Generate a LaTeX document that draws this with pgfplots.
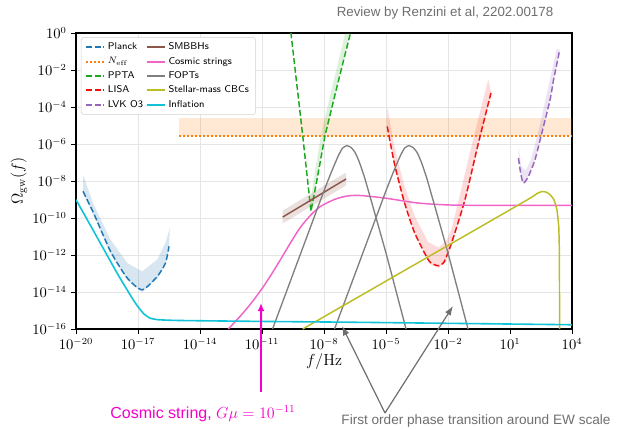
\documentclass[border=0pt]{standalone}
\usepackage{pgfplots}
\pgfplotsset{compat=1.18}
\usepackage{fontspec}
\newfontfamily\helv{Liberation Sans}
\usetikzlibrary{arrows.meta}

\definecolor{cblue}{HTML}{1F77B4}
\definecolor{corange}{HTML}{FF7F0E}
\definecolor{cgreen}{HTML}{1CA81C}
\definecolor{cred}{HTML}{F01010}
\definecolor{cpurple}{HTML}{9467BD}
\definecolor{cbrown}{HTML}{8C564B}
\definecolor{cpink}{HTML}{F064C8}
\definecolor{cgray}{HTML}{7F7F7F}
\definecolor{colive}{HTML}{BCBD22}
\definecolor{ccyan}{HTML}{12C2D6}
\definecolor{cmag}{HTML}{F500C8}
\definecolor{annot}{HTML}{6E6E6E}

% short line samples in the legend
\pgfplotsset{legend image code/.code={\draw[#1, line width=1.35pt] (0cm,0cm) -- (0.48cm,0cm);}}

\begin{document}
\begin{tikzpicture}[x=0.75pt,y=0.75pt]
\path[use as bounding box] (-76,-100) rectangle (553,329);
% axes hold log10(f/Hz) and log10(Omega_gw)
\begin{axis}[
  at={(0,0)}, anchor=south west, scale only axis,
  width=372pt, height=222pt,
  xmin=-20, xmax=4, ymin=-16, ymax=0,
  xtick={-20,-17,...,4},
  xticklabels={$10^{-20}$,$10^{-17}$,$10^{-14}$,$10^{-11}$,$10^{-8}$,$10^{-5}$,$10^{-2}$,$10^{1}$,$10^{4}$},
  ytick={-16,-14,...,0},
  yticklabels={$10^{-16}$,$10^{-14}$,$10^{-12}$,$10^{-10}$,$10^{-8}$,$10^{-6}$,$10^{-4}$,$10^{-2}$,$10^{0}$},
  tick align=outside, tick pos=left, major tick length=3.5pt,
  axis line style={line width=0.8pt}, tick style={black, line width=0.6pt},
  grid=major, major grid style={gray!20, line width=0.6pt},
  xlabel={$f/\mathrm{Hz}$}, ylabel={$\Omega_{\mathrm{gw}}(f)$},
  xlabel style={at={(axis description cs:0.5,-0.111)}, anchor=center},
  ylabel style={at={(axis description cs:-0.115,0.5)}, anchor=center},
  label style={font=\fontsize{12}{14}\selectfont},
  tick label style={font=\fontsize{10.5}{12}\selectfont},
  legend columns=5, transpose legend,
  legend style={at={(0.01,0.986)}, anchor=north west,
    draw=gray!35, rounded corners=2pt, fill=white,
    font=\sffamily\fontsize{7.4}{8.7}\selectfont, inner xsep=3pt, inner ysep=2pt},
  legend cell align=left,
]
% --- uncertainty bands ---
\addplot[forget plot, draw=none, fill=cblue, fill opacity=0.18] coordinates {
 (-19.66,-7.66) (-19.15,-9.28) (-18.33,-11.17) (-17.52,-12.43) (-16.80,-12.89)
 (-16.07,-12.25) (-15.67,-11.35) (-15.46,-10.54)
 (-15.50,-11.65) (-15.67,-12.55) (-16.07,-13.28) (-16.80,-14.00) (-17.52,-13.36)
 (-18.33,-11.92) (-19.15,-9.85) (-19.66,-8.68)} -- cycle;
\addplot[forget plot, draw=none, fill=corange, fill opacity=0.18] coordinates {
 (-15,-5.55) (4,-5.55) (4,-4.6) (-15,-4.6)} -- cycle;
\addplot[forget plot, draw=none, fill=cgreen, fill opacity=0.15] coordinates {
 (-8.63,-9.64) (-8.34,-7.93) (-7.95,-5.55) (-7.41,-3.07) (-6.72,0) (-6.6,0.6)
 (-6.9,0.6) (-6.97,0) (-7.64,-3.07) (-8.15,-5.55) (-8.50,-7.93) (-8.68,-9.4)} -- cycle;
\addplot[forget plot, draw=none, fill=cred, fill opacity=0.15] coordinates {
 (-4.94,-4.05) (-4.58,-6.2) (-4.10,-8.3) (-3.61,-9.9) (-2.96,-11.3) (-2.45,-11.6)
 (-2.07,-11.2) (-1.83,-10.6) (-1.48,-9.01) (-0.83,-5.95) (-0.22,-3.24) (-0.05,-2.5)
 (0.10,-3.3) (-0.50,-6.05) (-1.15,-9.1) (-1.80,-11.45) (-2.07,-12.3) (-2.45,-12.7)
 (-2.80,-12.55) (-2.96,-12.35) (-3.61,-10.9) (-4.10,-9.3) (-4.58,-7.2) (-4.94,-5.15)} -- cycle;
\addplot[forget plot, draw=none, fill=cpurple, fill opacity=0.18] coordinates {
 (1.41,-6.13) (1.55,-7.2) (1.75,-7.45) (2.0,-6.9) (2.4,-5.2) (2.8,-3.2) (3.25,-0.9)
 (3.42,-0.9) (2.94,-3.6) (2.54,-5.41) (2.21,-6.85) (1.89,-7.75) (1.65,-8.15)
 (1.52,-7.65) (1.43,-6.8)} -- cycle;
\addplot[forget plot, draw=none, fill=cbrown, fill opacity=0.18] coordinates {
 (-10.0,-10.3) (-6.93,-8.24) (-6.93,-7.54) (-10.0,-9.6)} -- cycle;

% --- sensitivity curves ---
\addplot[cblue, line width=1.1pt, dash pattern=on 4.5pt off 2pt, smooth, tension=0.4] coordinates {
 (-19.66,-8.56) (-19.15,-9.73) (-18.33,-11.8) (-17.52,-13.24) (-16.80,-13.88)
 (-16.07,-13.16) (-15.67,-12.43) (-15.50,-11.53)};
\addlegendentry{Planck}
\addplot[corange, line width=1.3pt, dash pattern=on 1.3pt off 1.7pt] coordinates {
 (-15,-5.55) (4,-5.55)};
\addlegendentry{$N_{\mathrm{eff}}$}
\addplot[cgreen, line width=1.1pt, dash pattern=on 4.5pt off 2pt] coordinates {
 (-9.65,0.5) (-9.60,0) (-9.03,-5.55) (-8.63,-9.64) (-8.34,-7.93) (-7.95,-5.55)
 (-7.41,-3.07) (-6.72,0) (-6.61,0.5)};
\addlegendentry{PPTA}
\addplot[cred, line width=1.1pt, dash pattern=on 4.5pt off 2pt, smooth, tension=0.4] coordinates {
 (-4.94,-5.05) (-4.58,-7.12) (-4.10,-9.19) (-3.61,-10.81) (-2.96,-12.25) (-2.70,-12.5)
 (-2.45,-12.58) (-2.20,-12.4) (-1.83,-11.35) (-1.18,-9.01) (-0.53,-5.95) (0.08,-3.24)};
\addlegendentry{LISA}
\addplot[cpurple, line width=1.1pt, dash pattern=on 4.5pt off 2pt, smooth, tension=0.4] coordinates {
 (1.41,-6.76) (1.52,-7.6) (1.65,-8.11) (1.89,-7.75) (2.21,-6.85) (2.54,-5.41)
 (2.94,-3.6) (3.11,-2.52) (3.40,-0.95)};
\addlegendentry{LVK O3}

% --- signals ---
\addplot[cbrown, line width=1.1pt] coordinates {(-10.0,-9.95) (-6.93,-7.89)};
\addlegendentry{SMBBHs}
\addplot[cpink, line width=1.1pt, smooth, tension=0.4] coordinates {
 (-12.63,-16) (-12.0,-15.24) (-11.5,-14.57) (-11.0,-13.82) (-10.5,-12.97) (-10.0,-12.05)
 (-9.5,-11.12) (-9.1,-10.44) (-8.6,-9.79) (-8.15,-9.36) (-7.5,-9.0) (-6.93,-8.82)
 (-6.3,-8.78) (-5.07,-8.92) (-3.45,-9.19) (-1.83,-9.3) (1.0,-9.32) (4,-9.32)};
\addlegendentry{Cosmic strings}
\addplot[cgray, line width=1pt, smooth, tension=0.3] coordinates {
 (-10.49,-16) (-9.0,-11.53) (-8.0,-8.53) (-7.6,-7.4) (-7.3,-6.62) (-7.1,-6.22)
 (-6.9,-6.09) (-6.7,-6.18) (-6.5,-6.45) (-6.3,-6.95) (-6.0,-7.95) (-5.0,-11.9) (-4.03,-16)};
\addlegendentry{FOPTs}
\addplot[forget plot, cgray, line width=1pt, smooth, tension=0.3] coordinates {
 (-7.49,-16) (-6.0,-11.53) (-5.0,-8.53) (-4.6,-7.4) (-4.3,-6.62) (-4.1,-6.22)
 (-3.9,-6.09) (-3.7,-6.18) (-3.5,-6.45) (-3.3,-6.95) (-3.0,-7.95) (-2.0,-11.9) (-1.03,-16)};
\addplot[colive, line width=1.1pt, smooth, tension=0.3] coordinates {
 (-9.03,-16) (-5,-13.41) (0,-10.2) (2.0,-8.91) (2.3,-8.68) (2.54,-8.57) (2.75,-8.6)
 (2.94,-8.74) (3.12,-9.0) (3.27,-9.55) (3.36,-10.5) (3.39,-12) (3.40,-16)};
\addlegendentry{Stellar-mass CBCs}
\addplot[ccyan, line width=1.2pt, smooth, tension=0.3] coordinates {
 (-20,-9.01) (-19,-11.0) (-18,-13.0) (-17.3,-14.3) (-17.0,-14.8) (-16.7,-15.2)
 (-16.4,-15.42) (-16.0,-15.5) (-15,-15.54) (-11.05,-15.59) (-6.2,-15.64) (4,-15.77)};
\addlegendentry{Inflation}
\end{axis}

% header and annotations
\node[font=\helv\fontsize{10}{12}\selectfont, text=annot] at (369,316) {Review by Renzini et al, 2202.00178};
\draw[cmag, line width=1.1pt, -{Latex[length=6pt,width=5pt]}] (185,-63) -- (185,26);
\node[text=cmag, font=\helv\fontsize{12}{14}\selectfont] at (127,-85) {Cosmic string, $G\mu=10^{-11}$};
\draw[annot, line width=0.9pt, -{Latex[length=7pt,width=5pt]}] (309,-84) -- (266,3);
\draw[annot, line width=0.9pt, -{Latex[length=7pt,width=5pt]}] (309,-84) -- (377,23);
\node[text=annot, font=\helv\fontsize{10.2}{12}\selectfont] at (400,-92) {First order phase transition around EW scale};
\end{tikzpicture}
\end{document}
